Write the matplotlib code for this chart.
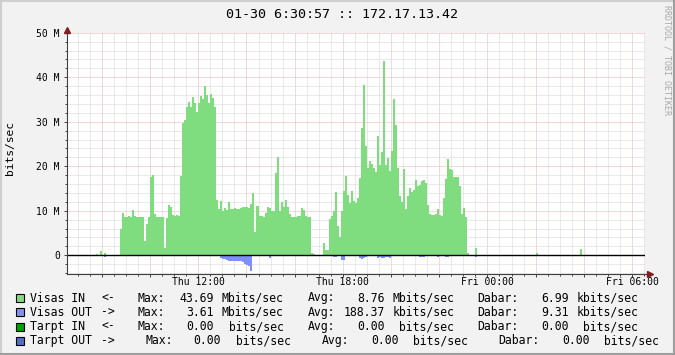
import matplotlib
matplotlib.use('Agg')
import matplotlib.pyplot as plt
import numpy as np
from matplotlib.patches import Rectangle
from matplotlib.lines import Line2D

# ---- data: 5 minute slots counted from Thu 00:00, values in Mbit/s ----
slot_hours = 5 / 60

visas_in_start = 105
visas_in = [
    5.8, 9.5, 8.5, 8.5, 8.8, 8.5, 10.2, 8.8, 8.6, 8.5, 8.5, 8.5, 3.2, 7.0, 8.5,
    17.5, 18.0, 9.3, 8.6, 8.6, 8.6, 8.6, 1.6, 8.4, 11.3, 10.9, 9.1, 8.9, 9.1, 8.9,
    17.9, 29.8, 30.3, 33.3, 34.5,
    33.3, 35.6, 34.3, 32.2, 34.3, 35.8, 35.2, 38.1, 36.0, 34.1, 36.3, 35.4, 33.3,
    12.4, 10.4, 12.1, 10.0, 10.6, 10.2, 12.0, 10.4, 10.4, 10.6, 10.4, 10.4, 10.6,
    10.9, 10.9, 10.9, 10.6, 11.5, 14.0, 5.2, 11.1, 8.8, 8.8, 8.6, 9.5, 10.9, 10.6,
    10.0, 10.0, 18.5, 22.1, 10.0, 12.0, 10.9, 12.5,
    10.9, 9.3, 8.6, 8.6, 8.6, 8.8, 8.8, 10.6, 10.2, 8.8, 8.6, 8.6, 0.5, 0.2,
    0.0, 0.0, 0.0, 0.0,
    2.8, 1.2, 1.2, 8.2, 8.8, 10.0, 14.2, 6.6, 4.1, 10.0, 14.5, 17.8, 13.6, 11.8,
    14.5, 12.2, 11.8, 12.9, 17.4, 28.6, 38.3, 24.6, 19.6, 21.2, 20.5, 19.6, 18.7,
    26.8, 20.3, 23.2, 43.7,
    20.3, 21.9, 19.0, 23.4, 35.1, 29.3, 19.6, 13.3, 12.0, 19.4, 10.4, 13.3, 15.1,
    14.2, 14.7, 16.9, 15.6, 15.8, 16.7, 16.9, 16.3, 11.3, 9.3, 9.1, 9.1, 9.3, 10.4,
    9.1, 8.8, 12.9, 17.2, 21.6, 19.4, 19.2, 17.6, 17.6, 17.6, 15.6, 9.3, 10.6, 8.6,
    0.5,
]
visas_in_spike_slots = [93, 95, 97, 282, 312, 334]
visas_in_spike_vals = [0.3, 1.0, 0.5, 1.6, 0.5, 1.4]

visas_out_start = 135
visas_out = [
    0.2, 0.2, 0.2, 0.2, 0.2, 0.2, 0.2, 0.2, 0.2, 0.2, 0.2, 0.2, 0.2, 0.2, 0.2, 0.2,
    0.2, 0.2, 0.0, 0.0, 0.5, 0.75, 0.75, 1.0, 1.2, 1.2, 1.2, 1.2, 1.2, 1.2, 1.2,
    1.4, 1.9, 2.1, 2.3, 3.6,
    0.2, 0.2, 0.2, 0.2, 0.2, 0.2, 0.2, 0.2, 0.5,
    0.2, 0.2, 0.2, 0.2, 0.2, 0.2, 0.2, 0.2, 0.2, 0.2, 0.2, 0.2, 0.2, 0.2, 0.2, 0.2,
    0.2, 0.2, 0.2, 0.2, 0.2, 0.2,
    0.0, 0.0, 0.0, 0.0,
    0.2, 0.2, 0.2, 0.2, 0.2, 0.4, 0.4, 0.2, 0.2, 1.0, 1.0,
    0.2, 0.2, 0.2, 0.2, 0.2, 0.2, 0.2, 0.6, 0.8, 0.6, 0.3,
    0.2, 0.2, 0.2, 0.2, 0.2, 0.5, 0.3, 0.5, 0.5, 0.3, 0.3, 0.5,
    0.2, 0.2, 0.2, 0.2, 0.2, 0.2, 0.2, 0.2, 0.2, 0.2, 0.2, 0.2, 0.2, 0.2,
    0.4, 0.4, 0.4, 0.2, 0.2, 0.2, 0.2, 0.2, 0.2, 0.3, 0.2, 0.2, 0.2, 0.4, 0.4,
    0.2, 0.2, 0.2, 0.2, 0.2, 0.2, 0.2, 0.2, 0.2,
]
visas_out_spike_slots = [97, 282]
visas_out_spike_vals = [0.4, 0.4]

x_tick_hours = [12, 18, 24, 30]
x_tick_labels = ['Thu 12:00', 'Thu 18:00', 'Fri 00:00', 'Fri 06:00']
y_tick_vals = [0, 10, 20, 30, 40, 50]
y_tick_labels = ['0', '10 M', '20 M', '30 M', '40 M', '50 M']

legend_names = ['Visas IN', 'Visas OUT', 'Tarpt IN', 'Tarpt OUT']
legend_arrows = ['<-', '->', '<-', '->']
legend_max = ['43.69', '3.61', '0.00', '0.00']
legend_max_unit = ['Mbits/sec', 'Mbits/sec', ' bits/sec', ' bits/sec']
legend_avg = ['8.76', '188.37', '0.00', '0.00']
legend_avg_unit = ['Mbits/sec', 'kbits/sec', ' bits/sec', ' bits/sec']
legend_cur = ['6.99', '9.31', '0.00', '0.00']
legend_cur_unit = ['kbits/sec', 'kbits/sec', ' bits/sec', ' bits/sec']
legend_colors = ['#7FDD7F', '#7F8FFF', '#00A000', '#5070C8']

title = '01-30 6:30:57 :: 172.17.13.42'

MONO = 'DejaVu Sans Mono'
W, H = 675, 355


def fx(px):
    return px / W


def fy(py):
    return 1 - py / H


# ---- build slot series ----
n_slots = 372
in_series = np.zeros(n_slots)
in_series[visas_in_start:visas_in_start + len(visas_in)] = visas_in
in_series[visas_in_spike_slots] = visas_in_spike_vals
out_series = np.zeros(n_slots)
out_series[visas_out_start:visas_out_start + len(visas_out)] = visas_out
out_series[visas_out_spike_slots] = visas_out_spike_vals
edges = np.arange(n_slots + 1) * slot_hours

fig = plt.figure(figsize=(6.75, 3.55), dpi=100, facecolor='#F2F2F2')
ax = fig.add_axes([fx(66.7), fy(274), fx(645 - 66.7), (274 - 32.7) / H])
ax.set_facecolor('white')
t_min, t_max = 6.54, 30.54
ax.set_xlim(t_min, t_max)
ax.set_ylim(-4.2, 50)

# grid (under the data)
minor_c, major_c = '#D4D4D4', '#EBB5B5'
dot = (0, (1, 1))
for h in np.arange(7, 31, 0.5):
    if h % 2 != 0:
        ax.axvline(h, color=minor_c, lw=0.72, ls=dot, zorder=1)
for h in np.arange(8, 31, 2):
    ax.axvline(h, color=major_c, lw=0.72, ls=dot, zorder=1)
for v in np.arange(-4, 51, 2):
    if v % 10 != 0:
        ax.axhline(v, color=minor_c, lw=0.72, ls=dot, zorder=1)
for v in y_tick_vals:
    ax.axhline(v, color=major_c, lw=0.72, ls=dot, zorder=1)

# data
ax.stairs(in_series, edges, baseline=0, fill=True, color='#7FDD7F', lw=0, zorder=2)
ax.stairs(-out_series, edges, baseline=0, fill=True, color='#7F8FFF', lw=0, zorder=2)
ax.axhline(0, color='black', lw=1.0, zorder=3)

# axes styling
axis_c = '#404040'
for s in ['top', 'right']:
    ax.spines[s].set_visible(False)
for s in ['left', 'bottom']:
    ax.spines[s].set_color(axis_c)
    ax.spines[s].set_linewidth(0.8)
    ax.spines[s].set_zorder(4)

ax.set_xticks(np.arange(8, 31, 2))
ax.set_xticklabels([x_tick_labels[x_tick_hours.index(h)] if h in x_tick_hours else ''
                    for h in np.arange(8, 31, 2)])
ax.set_xticks(np.arange(7, 31, 0.5), minor=True)
ax.set_yticks(y_tick_vals)
ax.set_yticklabels(y_tick_labels)
ax.set_yticks(np.arange(-4, 51, 2), minor=True)
ax.tick_params(which='major', direction='out', length=2.2, width=0.7, color=axis_c)
ax.tick_params(which='minor', direction='out', length=1.2, width=0.7, color=axis_c)
ax.tick_params(axis='y', labelsize=7, pad=2.8)
ax.tick_params(axis='x', labelsize=7, pad=0.3)
for lab in ax.get_xticklabels() + ax.get_yticklabels():
    lab.set_family(MONO)

# arrows
arrow_c = '#801F1F'
fig.add_artist(Line2D([fx(645), fx(648)], [fy(274), fy(274)], color=axis_c, lw=0.8))
fig.add_artist(Line2D([fx(649.5)], [fy(274)], marker='>', ms=4.5, color=arrow_c, lw=0))
fig.add_artist(Line2D([fx(66.7), fx(66.7)], [fy(32.7), fy(30)], color=axis_c, lw=0.8))
fig.add_artist(Line2D([fx(66.7)], [fy(29.5)], marker='^', ms=4.5, color=arrow_c, lw=0))

# texts
fig.text(fx(342), fy(14), title, ha='center', va='center', fontsize=9.6, family=MONO)
fig.text(fx(10), fy(148), 'bits/sec', ha='center', va='center', rotation=90,
         fontsize=8.1, family=MONO)
fig.text(fx(667), fy(60), 'RRDTOOL / TOBI OETIKER', ha='center', va='center',
         rotation=270, fontsize=6.0, family=MONO, color='#A8A8A8')

# legend
row_y = [298, 312.3, 326.6, 340.9]
for i in range(4):
    y = fy(row_y[i])
    shift1 = 7.2 if i == 3 else 0
    shift2 = 14.0 if i == 3 else 0
    shift3 = 21.0 if i == 3 else 0
    fig.add_artist(Rectangle((fx(15.5), fy(row_y[i] + 4)), fx(8), 8 / H,
                             facecolor=legend_colors[i], edgecolor='black', lw=0.8))
    kw = dict(va='center', fontsize=8.3, family=MONO)
    fig.text(fx(30.2), y, legend_names[i], ha='left', **kw)
    fig.text(fx(101.3), y, legend_arrows[i], ha='left', **kw)
    fig.text(fx(137.9 + shift1), y, 'Max:', ha='left', **kw)
    fig.text(fx(214.0 + shift1), y, legend_max[i], ha='right', **kw)
    fig.text(fx(222.0 + shift1), y, legend_max_unit[i], ha='left', **kw)
    fig.text(fx(308.2 + shift2), y, 'Avg:', ha='left', **kw)
    fig.text(fx(384.5 + shift2), y, legend_avg[i], ha='right', **kw)
    fig.text(fx(392.2 + shift2), y, legend_avg_unit[i], ha='left', **kw)
    fig.text(fx(477.6 + shift3), y, 'Dabar:', ha='left', **kw)
    fig.text(fx(568.8 + shift3), y, legend_cur[i], ha='right', **kw)
    fig.text(fx(576.3 + shift3), y, legend_cur_unit[i], ha='left', **kw)

# 3D frame
fig.add_artist(Line2D([0, 1], [fy(1), fy(1)], color='#CFCFCF', lw=1.5))
fig.add_artist(Line2D([fx(1), fx(1)], [0, 1], color='#CFCFCF', lw=1.5))
fig.add_artist(Line2D([0, 1], [fy(354), fy(354)], color='#9E9E9E', lw=1.5))
fig.add_artist(Line2D([fx(674), fx(674)], [0, 1], color='#9E9E9E', lw=1.5))

fig.savefig('out.png', dpi=100, facecolor=fig.get_facecolor())
